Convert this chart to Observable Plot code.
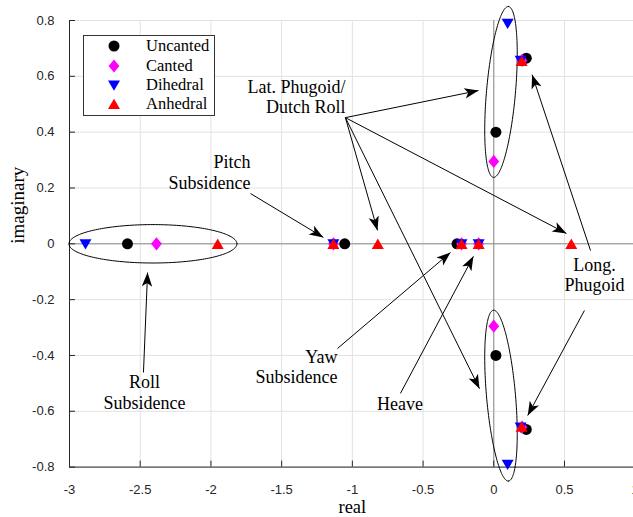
<!DOCTYPE html>
<html>
<head>
<meta charset="utf-8">
<script src="https://cdn.jsdelivr.net/npm/d3@7"></script>
<script src="https://cdn.jsdelivr.net/npm/@observablehq/plot@0.6"></script>
<style>
html, body { margin: 0; padding: 0; background: #fff; overflow: hidden; }
#wrap { position: relative; width: 633px; height: 517px; overflow: hidden; background: #fff; }
#wrap svg { max-width: none !important; }
#legend { position: absolute; left: 83px; top: 35px; width: 130px; height: 79px;
  border: 1px solid #333; background: #fff; font-family: "Liberation Serif", serif; font-size: 16.5px; color: #000; }
#legend .row { position: absolute; left: 0; height: 20px; width: 130px; }
#legend .row svg { position: absolute; left: 20px; top: 0; }
#legend .row span { position: absolute; left: 62px; top: 0; line-height: 20px; white-space: nowrap; }
</style>
</head>
<body>
<div id="wrap"></div>
<script>
// ---------------- data ----------------
const categories = ["Uncanted", "Canted", "Dihedral", "Anhedral"];
const colors = ["#000000", "#ff00ff", "#0000ff", "#ff0000"];

const uncantedRe = [-2.59, -1.054, -0.26, 0.015, 0.015, 0.23, 0.23];
const uncantedIm = [0, 0, 0, 0.40, -0.40, 0.665, -0.665];
const cantedRe = [-2.385, -1.134, -0.228, -0.107, 0.0, 0.0, 0.2, 0.2];
const cantedIm = [0, 0, 0, 0, 0.295, -0.295, 0.657, -0.657];
const dihedralRe = [-2.887, -1.134, -0.228, -0.107, 0.098, 0.098, 0.19, 0.19];
const dihedralIm = [0, 0, 0, 0, 0.79, -0.79, 0.657, -0.657];
const anhedralRe = [-1.952, -1.134, -0.82, -0.228, -0.107, 0.548, 0.197, 0.197];
const anhedralIm = [0, 0, 0, 0, 0, 0, 0.655, -0.655];

const xTicks = [-3, -2.5, -2, -1.5, -1, -0.5, 0, 0.5, 1];
const yTicks = [-0.8, -0.6, -0.4, -0.2, 0, 0.2, 0.4, 0.6, 0.8];

// annotation ellipses (center, semi-axis vectors in data units)
const ellipseCx = [-2.41, 0.051, 0.051];
const ellipseCy = [0, 0.544, -0.544];
const ellipseAx = [0.594, 0.053, 0.053];
const ellipseAy = [0, 0.306, -0.306];
const ellipseBx = [0, 0.102, 0.102];
const ellipseBy = [0.0688, -0.0045, 0.0045];

// annotation arrows (data units)
const arrowX1 = [-1.049, -1.049, -1.049, -1.049, 0.684, 0.641, -1.720, -2.477, -1.105, -0.660];
const arrowY1 = [0.452, 0.452, 0.452, 0.452, -0.024, -0.239, 0.180, -0.461, -0.375, -0.536];
const arrowX2 = [-0.108, -0.822, 0.514, -0.101, 0.271, 0.240, -1.205, -2.448, -0.306, -0.144];
const arrowY2 = [0.549, 0.048, 0.037, -0.519, 0.606, -0.615, 0.023, -0.103, -0.031, -0.045];

// annotation labels
const labelText = ["Lat. Phugoid/\nDutch Roll", "Pitch\nSubsidence", "Yaw\nSubsidence", "Roll\nSubsidence", "Heave", "Long.\nPhugoid"];
const labelX = [-1.049, -1.720, -1.105, -2.470, -0.663, 0.712];
const labelY = [0.528, 0.2565, -0.439, -0.531, -0.573, -0.110];
const labelAnchor = ["end", "end", "end", "middle", "middle", "middle"];

// ---------------- symbols ----------------
const shapes = {
  circle: ctx => { ctx.moveTo(5.5, 0); ctx.arc(0, 0, 5.5, 0, 2 * Math.PI); ctx.closePath(); },
  diamond: ctx => { ctx.moveTo(0, -6.6); ctx.lineTo(5.4, 0); ctx.lineTo(0, 6.6); ctx.lineTo(-5.4, 0); ctx.closePath(); },
  triDown: ctx => { ctx.moveTo(-6, -4.6); ctx.lineTo(6, -4.6); ctx.lineTo(0, 5.8); ctx.closePath(); },
  triUp: ctx => { ctx.moveTo(0, -5.3); ctx.lineTo(6, 5.1); ctx.lineTo(-6, 5.1); ctx.closePath(); },
  head: ctx => { ctx.moveTo(0, 0); ctx.lineTo(5.2, 14); ctx.lineTo(0, 10.5); ctx.lineTo(-5.2, 14); ctx.closePath(); }
};
const sym = k => ({draw: (ctx) => shapes[k](ctx)});
const symbolKeys = ["circle", "diamond", "triDown", "triUp"];

// ---------------- layout ----------------
const W = 635, H = 517, ML = 69, MR = 0.3, MT = 20, MB = 50.4;
const sx = Plot.scale({x: {domain: [-3, 1], range: [ML, W - MR]}});
const sy = Plot.scale({y: {domain: [-0.8, 0.8], range: [H - MB, MT]}});

const series = [
  {re: uncantedRe, im: uncantedIm},
  {re: cantedRe, im: cantedIm},
  {re: dihedralRe, im: dihedralIm},
  {re: anhedralRe, im: anhedralIm}
];

const ellipsePts = [];
ellipseCx.forEach((cx, i) => {
  for (let k = 0; k <= 200; k++) {
    const t = 2 * Math.PI * k / 200;
    ellipsePts.push({
      id: i,
      x: cx + ellipseAx[i] * Math.cos(t) + ellipseBx[i] * Math.sin(t),
      y: ellipseCy[i] + ellipseAy[i] * Math.cos(t) + ellipseBy[i] * Math.sin(t)
    });
  }
});

const arrows = arrowX1.map((x1, i) => {
  const dx = sx.apply(arrowX2[i]) - sx.apply(x1);
  const dy = sy.apply(arrowY2[i]) - sy.apply(arrowY1[i]);
  return {x1, y1: arrowY1[i], x2: arrowX2[i], y2: arrowY2[i], angle: Math.atan2(dx, -dy) * 180 / Math.PI};
});

const labels = labelText.map((t, i) => ({t, x: labelX[i], y: labelY[i], a: labelAnchor[i]}));

const serif = "'Liberation Serif', 'Times New Roman', serif";
const sans = "'Liberation Sans', Arial, Helvetica, sans-serif";

const dotMarks = series.map((s, i) =>
  Plot.dot(s.re.map((r, j) => ({re: r, im: s.im[j]})), {
    x: "re", y: "im", r: 5.5, symbol: sym(symbolKeys[i]), fill: colors[i], stroke: "none"
  })
);

const textMarks = ["end", "middle"].map(a =>
  Plot.text(labels.filter(d => d.a === a), {
    x: "x", y: "y", text: "t", textAnchor: a, lineAnchor: "middle", lineHeight: 1.15,
    fontFamily: serif, fontSize: 18, fill: "#000"
  })
);

const chart = Plot.plot({
  width: W, height: H,
  marginLeft: ML, marginRight: MR, marginTop: MT, marginBottom: MB,
  x: {domain: [-3, 1]},
  y: {domain: [-0.8, 0.8]},
  style: {background: "#fff", maxWidth: "none", overflow: "visible"},
  marks: [
    Plot.gridX(xTicks, {stroke: "#e2e2e2", strokeOpacity: 1}),
    Plot.gridY(yTicks, {stroke: "#e2e2e2", strokeOpacity: 1}),
    Plot.ruleX([0], {stroke: "#8c8c8c"}),
    Plot.ruleY([0], {stroke: "#8c8c8c"}),
    Plot.ruleX([-3], {stroke: "#262626"}),
    Plot.ruleY([-0.8], {stroke: "#262626"}),
    Plot.axisX(xTicks, {tickSize: -6, tickPadding: 24, tickFormat: d => String(d), fontFamily: sans, fontSize: 13, fill: "#262626", stroke: "#262626", label: null}),
    Plot.axisY(yTicks, {tickSize: -6, tickPadding: 21, tickFormat: d => String(d), fontFamily: sans, fontSize: 13, fill: "#262626", stroke: "#262626", label: null}),
    Plot.line(ellipsePts, {x: "x", y: "y", z: "id", stroke: "#000", strokeWidth: 1, curve: "linear"}),
    Plot.link(arrows, {x1: "x1", y1: "y1", x2: "x2", y2: "y2", stroke: "#000", strokeWidth: 1}),
    ...dotMarks,
    Plot.dot(arrows, {x: "x2", y: "y2", r: 5, symbol: sym("head"), rotate: "angle", fill: "#000", stroke: "none"}),
    ...textMarks,
    Plot.text(["real"], {frameAnchor: "bottom", dy: 46, fontFamily: serif, fontSize: 18.5, fill: "#000"}),
    Plot.text(["imaginary"], {frameAnchor: "left", dx: -52, rotate: -90, fontFamily: serif, fontSize: 19, fill: "#000"})
  ]
});
chart.style.maxWidth = "none";
const wrap = document.getElementById("wrap");
wrap.appendChild(chart);

// legend (HTML overlay)
const legend = document.createElement("div");
legend.id = "legend";
const rowCenters = [10, 29.5, 48.5, 67.5];
categories.forEach((c, i) => {
  const row = document.createElement("div");
  row.className = "row";
  row.style.top = (rowCenters[i] - 10) + "px";
  const p = d3.path();
  shapes[symbolKeys[i]](p);
  row.innerHTML = `<svg width="20" height="20" viewBox="-10 -10 20 20"><path d="${p.toString()}" fill="${colors[i]}"/></svg><span>${c}</span>`;
  legend.appendChild(row);
});
wrap.appendChild(legend);
</script>
</body>
</html>
